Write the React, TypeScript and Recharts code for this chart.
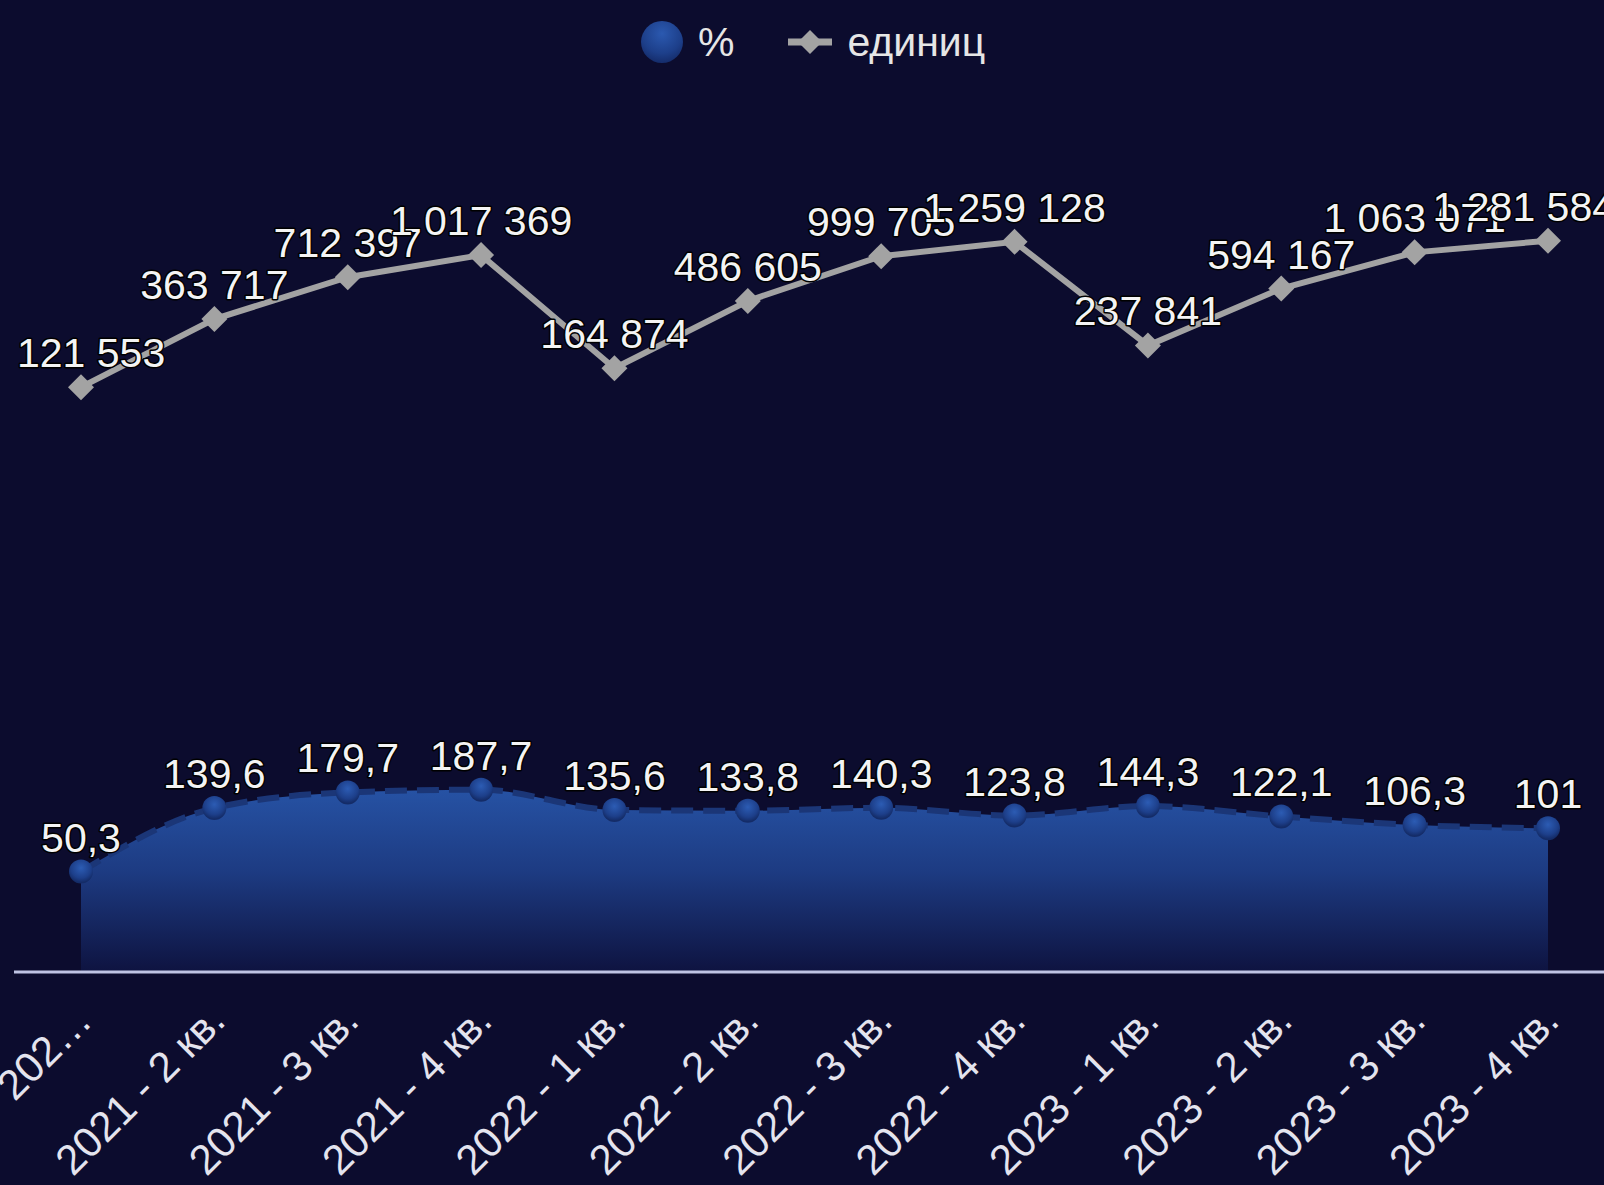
import React from 'react';
import { ComposedChart, Area, Line, XAxis, YAxis, LabelList } from 'recharts';

const categories = [
  '2021 - 1 кв.', '2021 - 2 кв.', '2021 - 3 кв.', '2021 - 4 кв.',
  '2022 - 1 кв.', '2022 - 2 кв.', '2022 - 3 кв.', '2022 - 4 кв.',
  '2023 - 1 кв.', '2023 - 2 кв.', '2023 - 3 кв.', '2023 - 4 кв.',
];
const tickLabels = [
  '202…', '2021 - 2 кв.', '2021 - 3 кв.', '2021 - 4 кв.',
  '2022 - 1 кв.', '2022 - 2 кв.', '2022 - 3 кв.', '2022 - 4 кв.',
  '2023 - 1 кв.', '2023 - 2 кв.', '2023 - 3 кв.', '2023 - 4 кв.',
];
const percentValues = [50.3, 139.6, 179.7, 187.7, 135.6, 133.8, 140.3, 123.8, 144.3, 122.1, 106.3, 101];
const unitValues = [121553, 363717, 712397, 1017369, 164874, 486605, 999705, 1259128, 237841, 594167, 1063071, 1281584];
const seriesNames = ['%', 'единиц'];
const yDomain = [10, 10000000];

const data = categories.map((c, i) => ({ name: c, pct: percentValues[i], units: unitValues[i] }));

const BG = '#0c0c2e';
const FONT = '"Liberation Sans", Arial, sans-serif';
const LABEL_SIZE = 41;
const PLOT_LEFT = 17;
const PLOT_RIGHT = 1615;

const fmtUnits = (v: number) => String(v).replace(/\B(?=(\d{3})+(?!\d))/g, ' ');
const fmtPct = (v: number) => String(v).replace('.', ',');

let measureCtx: CanvasRenderingContext2D | null = null;
const measure = (s: string) => {
  if (!measureCtx) {
    const c = document.createElement('canvas');
    measureCtx = c.getContext('2d');
  }
  if (!measureCtx) return s.length * LABEL_SIZE * 0.5;
  measureCtx.font = `${LABEL_SIZE}px "Liberation Sans"`;
  return measureCtx.measureText(s).width;
};

const makeLabel = (fmt: (v: number) => string) => (props: any) => {
  const { x, y, value } = props;
  if (x == null || y == null || value == null) return null;
  const s = fmt(Number(value));
  const w = measure(s);
  let cx = x;
  if (cx - w / 2 < PLOT_LEFT) cx = PLOT_LEFT + w / 2;
  if (cx + w / 2 > PLOT_RIGHT) cx = PLOT_RIGHT - w / 2;
  return (
    <text
      x={cx}
      y={y - 20}
      textAnchor="middle"
      fill="#f4f4f4"
      stroke="#000"
      strokeWidth={3}
      strokeLinejoin="round"
      paintOrder="stroke"
      style={{ fontFamily: FONT, fontSize: LABEL_SIZE }}
    >
      {s}
    </text>
  );
};

const Dot = (props: any) => {
  const { cx, cy } = props;
  if (cx == null || cy == null) return null;
  return <circle cx={cx} cy={cy} r={12} fill="url(#dotGrad)" />;
};

const Diamond = (props: any) => {
  const { cx, cy } = props;
  if (cx == null || cy == null) return null;
  const r = 13;
  return (
    <polygon
      points={`${cx},${cy - r} ${cx + r},${cy} ${cx},${cy + r} ${cx - r},${cy}`}
      fill="#a3a3a3"
    />
  );
};

const Tick = (props: any) => {
  const { x, y, index } = props;
  const label = tickLabels[index] ?? '';
  return (
    <g transform={`translate(${x + 13},${y + 49})`}>
      <text
        textAnchor="end"
        transform="rotate(-45)"
        fill="#e4e4ee"
        style={{ fontFamily: FONT, fontSize: 42 }}
      >
        {label}
      </text>
    </g>
  );
};

const Legend = () => (
  <div
    style={{
      position: 'absolute',
      left: 641,
      top: 21,
      display: 'flex',
      alignItems: 'center',
      fontFamily: FONT,
      fontSize: 41,
      color: '#e6e6e6',
      lineHeight: '42px',
    }}
  >
    <div
      style={{
        width: 42,
        height: 42,
        borderRadius: 21,
        background: 'radial-gradient(circle at 50% 30%, #2b59b0 0%, #1d3f8a 55%, #0f1f55 100%)',
      }}
    />
    <span style={{ marginLeft: 15 }}>{seriesNames[0]}</span>
    <svg width={44} height={30} style={{ marginLeft: 54 }}>
      <line x1={0} y1={15} x2={44} y2={15} stroke="#a3a3a3" strokeWidth={7} />
      <polygon points="22,3 34,15 22,27 10,15" fill="#a3a3a3" />
    </svg>
    <span style={{ marginLeft: 15 }}>{seriesNames[1]}</span>
  </div>
);

export default function App() {
  return (
    <div
      style={{
        position: 'absolute',
        left: 0,
        top: 0,
        width: 1604,
        height: 1185,
        overflow: 'hidden',
        background: BG,
      }}
    >
      <ComposedChart
        width={1620}
        height={1185}
        data={data}
        margin={{ top: 113, right: 5, left: 14, bottom: 13 }}
      >
        <defs>
          <linearGradient id="areaGrad" x1="0" y1="0" x2="0" y2="1">
            <stop offset="0%" stopColor="#2652a4" />
            <stop offset="45%" stopColor="#1d3b82" />
            <stop offset="100%" stopColor="#0e1340" />
          </linearGradient>
          <radialGradient id="dotGrad" cx="50%" cy="35%" r="60%">
            <stop offset="0%" stopColor="#2c5cb4" />
            <stop offset="70%" stopColor="#1d3f8a" />
            <stop offset="100%" stopColor="#142c68" />
          </radialGradient>
        </defs>
        <XAxis
          dataKey="name"
          interval={0}
          height={200}
          tickLine={false}
          tickSize={0}
          padding={{ left: 67, right: 67 }}
          axisLine={{ stroke: '#bfc3e4', strokeWidth: 3 }}
          tick={<Tick />}
        />
        <YAxis hide type="number" scale="log" domain={yDomain} allowDataOverflow />
        <Area
          type="monotone"
          dataKey="pct"
          name={seriesNames[0]}
          stroke="#1b3677"
          strokeWidth={6}
          strokeDasharray="22 10"
          fill="url(#areaGrad)"
          fillOpacity={1}
          dot={<Dot />}
          activeDot={false}
          isAnimationActive={false}
        >
          <LabelList dataKey="pct" content={makeLabel(fmtPct)} />
        </Area>
        <Line
          type="linear"
          dataKey="units"
          name={seriesNames[1]}
          stroke="#a3a3a3"
          strokeWidth={6}
          dot={<Diamond />}
          activeDot={false}
          isAnimationActive={false}
        >
          <LabelList dataKey="units" content={makeLabel(fmtUnits)} />
        </Line>
      </ComposedChart>
      <Legend />
    </div>
  );
}
